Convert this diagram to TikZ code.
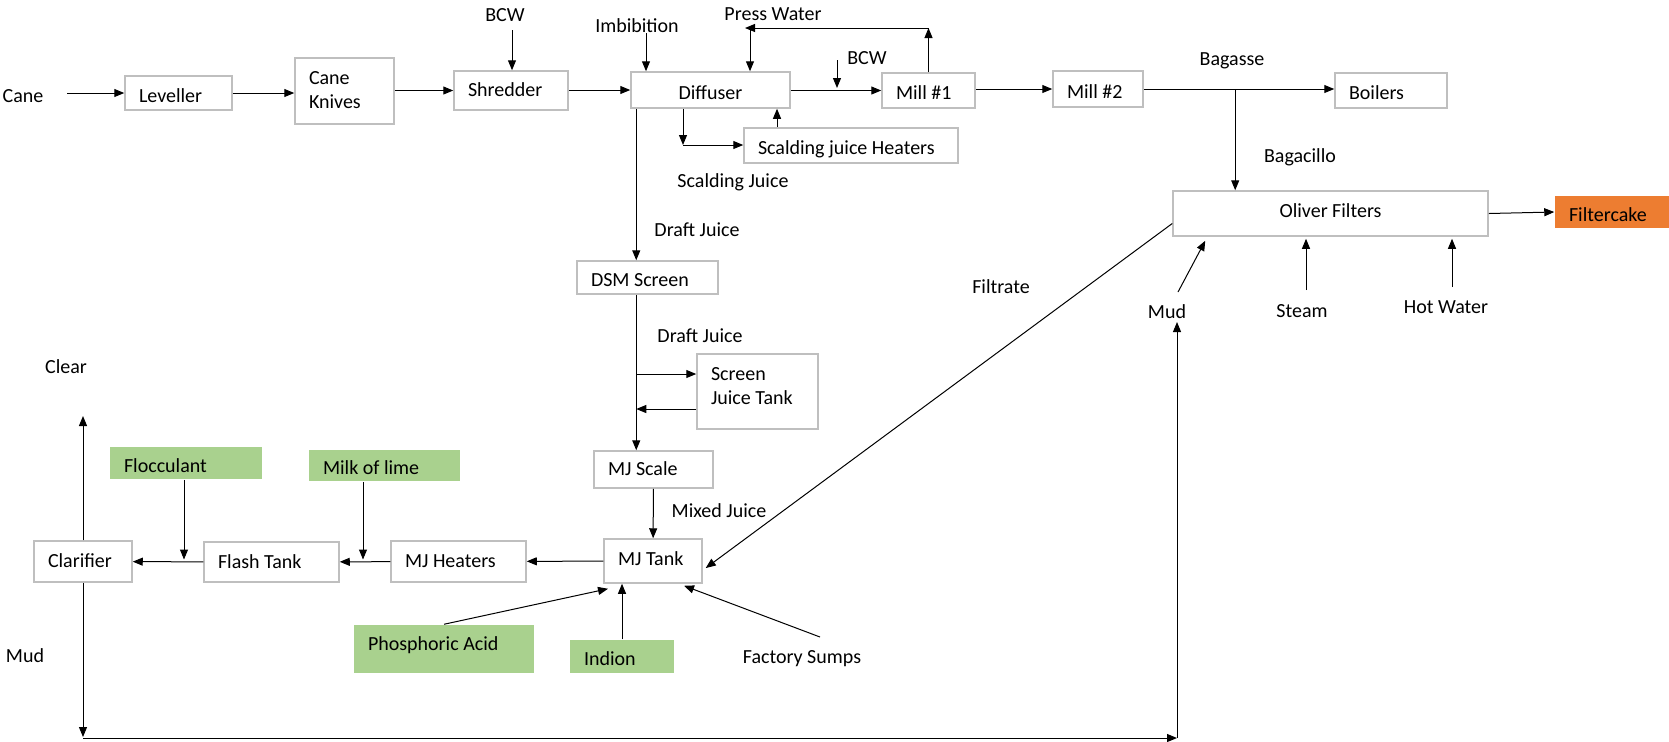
\documentclass[tikz,border=0pt]{standalone}
\usepackage{fontspec}
\setmainfont{Carlito}
\usetikzlibrary{arrows.meta, positioning, calc}
\definecolor{BoxGray}{RGB}{191, 191, 191}
\definecolor{DoseGreen}{RGB}{169, 209, 142}
\definecolor{CakeOrange}{RGB}{237, 125, 49}

\begin{document}
\begin{tikzpicture}[
            x=0.5pt, y=-0.5pt,
            box/.style={rectangle, draw=BoxGray, line width=0.75pt, inner xsep=7pt, inner ysep=0pt,
                        align=left, font=\fontsize{10}{12}\selectfont, text height=9.5pt, text depth=0.5pt,
                        execute at begin node={\spaceskip=0pt\xspaceskip=0pt\relax}},
            midbox/.style={box, align=none},
            dose/.style={box, draw=none, fill=DoseGreen},
            lbl/.style={inner sep=1pt, font=\fontsize{10}{12}\selectfont, text height=6.4pt, text depth=0pt},
            arrow/.style={-{Triangle[length=5pt, width=4pt]}, line width=0.5pt}
        ]
            \fill[white] (0,0) rectangle (1669,741);
            \useasboundingbox (0,0) rectangle (1669,741);

            % Cane line
            \node[box, text width=39.5pt, minimum height=17pt] (leveller) at (178.5,93) {Leveller};
            \node[box, text width=35.5pt, minimum height=33pt, text height=7pt, text depth=14pt] (knives) at (344.5,91) {Cane\\Knives};
            \node[box, text width=43pt, minimum height=19.5pt, text height=8pt, text depth=1.6pt] (shredder) at (511,90.5) {Shredder};
            \node[midbox, minimum width=79.5pt, minimum height=18pt] (diffuser) at (710.5,90) {Diffuser};
            \node[box, text width=93pt, minimum height=17.5pt] (scald) at (851,145.5) {Scalding juice Heaters};
            \node[box, text width=32.5pt, minimum height=17.5pt] (mill1) at (928.5,90.5) {Mill \#1};
            \node[box, text width=31pt, minimum height=18pt] (mill2) at (1098,89) {Mill \#2};
            \node[box, text width=42pt, minimum height=17.5pt] (boilers) at (1391,90.5) {Boilers};
            \node[midbox, minimum width=157.5pt, minimum height=22.5pt, text height=7pt, text depth=2.6pt] (oliver) at (1330.5,213.5) {Oliver Filters};
            \node[box, draw=none, fill=CakeOrange, text width=43pt, minimum height=16pt] (filtercake) at (1612,212) {Filtercake};

            % Juice line
            \node[box, text width=56.5pt, minimum height=16.5pt] (dsm) at (647.5,277.5) {DSM Screen};
            \node[box, text width=46.5pt, minimum height=37.5pt, text height=7pt, text depth=18pt] (sjt) at (757.5,391.5) {Screen\\Juice Tank};
            \node[box, text width=45.5pt, minimum height=18.5pt, text height=8pt, text depth=1.6pt] (mjscale) at (653.5,469.5) {MJ Scale};
            \node[box, text width=35pt, minimum height=22pt, text height=7pt, text depth=2.6pt] (mjtank) at (653,561) {MJ Tank};
            \node[box, text width=53.5pt, minimum height=20.5pt, text height=8pt, text depth=1.6pt] (mjheaters) at (458.5,561.5) {MJ Heaters};
            \node[box, text width=53.5pt, minimum height=20pt, text height=8pt, text depth=1.6pt] (flash) at (271.5,562) {Flash Tank};
            \node[box, text width=35pt, minimum height=20.5pt, text height=8pt, text depth=1.6pt] (clarifier) at (83,561.5) {Clarifier};

            % Dosing
            \node[dose, text width=62pt, minimum height=16pt] (flocculant) at (186,463) {Flocculant};
            \node[dose, text width=61.5pt, minimum height=15.5pt] (milk) at (384.5,465.5) {Milk of lime};
            \node[dose, text width=76pt, minimum height=24pt, text height=7pt, text depth=5.6pt] (phosphoric) at (444,649) {Phosphoric Acid};
            \node[dose, text width=38pt, minimum height=16.5pt] (indion) at (622,656.5) {Indion};

            % Labels
            \node[lbl] (cane) at (23,96) {Cane};
            \node[lbl] (bcwa) at (505,15) {BCW};
            \node[lbl] (imbib) at (637,26) {Imbibition};
            \node[lbl] (presswater) at (773,14) {Press Water};
            \node[lbl] (bcwb) at (867,58) {BCW};
            \node[lbl] (scaldjuice) at (733,181) {Scalding Juice};
            \node[lbl] (bagasse) at (1232,59) {Bagasse};
            \node[lbl] (bagacillo) at (1300,156) {Bagacillo};
            \node[lbl] (drafta) at (697,230) {Draft Juice};
            \node[lbl] (draftb) at (700,336) {Draft Juice};
            \node[lbl] (filtrate) at (1001,287) {Filtrate};
            \node[lbl] (mudr) at (1167,312) {Mud};
            \node[lbl] (steam) at (1302,311) {Steam};
            \node[lbl] (hotwater) at (1446,307) {Hot Water};
            \node[lbl] (mixed) at (719,511) {Mixed Juice};
            \node[lbl] (sumps) at (802,657) {Factory Sumps};
            \node[lbl] (clear) at (66,367) {Clear};
            \node[lbl] (mudl) at (25,656) {Mud};

            % Free ends
            \coordinate (canein) at (67,93);
            \coordinate (bcwain) at (512,30);
            \coordinate (imbin) at (646,33);
            \coordinate (pwleft) at (745,28);
            \coordinate (bcwbin) at (837,60);
            \coordinate (scaldturn) at (683,145);
            \coordinate (dj) at ([xshift=30pt]dsm.south west);
            \coordinate (sjtin) at ([yshift=8.75pt]sjt.west);
            \coordinate (sjtout) at ([yshift=-8.75pt]sjt.west);
            \coordinate (bagsplit) at ($(mill2.east)!0.48!(boilers.west)$);
            \coordinate (mudout) at (1178,292);
            \coordinate (steamout) at (1306,290);
            \coordinate (hwout) at (1452,287);
            \coordinate (clearout) at (83,416);
            \coordinate (mudbl) at (83,737);
            \coordinate (mudbr) at (1177,738);
            \coordinate (mudup) at (1177,322);
            \coordinate (sumpsout) at (820,637);

            % Arrows, cane line
            \draw[arrow] (canein) -- (leveller);
            \draw[arrow] (leveller.east) -- (leveller.east -| knives.west);
            \draw[arrow] (knives.east |- shredder.west) -- (shredder.west);
            \draw[arrow] (bcwain) -- (bcwain |- shredder.north);
            \draw[arrow] (shredder.east |- diffuser.west) -- (diffuser.west);
            \draw[arrow] (imbin) -- (imbin |- diffuser.north);
            \draw[arrow] (diffuser.east |- mill1.west) -- (mill1.west);
            \draw[arrow, shorten >=1pt] (bcwbin) -- (bcwbin |- diffuser.east);
            \draw[arrow] (mill1.east |- mill2.west) -- (mill2.west);
            \draw[arrow] (mill2.east) -- (mill2.east -| boilers.west);

            % Press water
            \draw[arrow] (mill1.north) -- (mill1.north |- pwleft);
            \draw[arrow] (mill1.north |- pwleft) -- (pwleft);
            \draw[arrow] ([xshift=2.5pt]pwleft) -- ([xshift=2.5pt]pwleft |- diffuser.north);

            % Scalding juice loop
            \draw[arrow] (diffuser.south -| scaldturn) -- (scaldturn);
            \draw[arrow] (scaldturn) -- (scaldturn -| scald.west);
            \draw[arrow] ([xshift=-37pt]scald.north) -- ([xshift=-37pt]scald.north |- diffuser.south);

            % Draft juice
            \draw[arrow] ([xshift=3pt]diffuser.south west) -- ([xshift=3pt]diffuser.south west |- dsm.north);
            \draw[arrow] (dj) -- (dj |- mjscale.north);
            \draw[arrow] (dj |- sjtin) -- (sjtin);
            \draw[arrow] (sjtout) -- (dj |- sjtout);
            \draw[arrow] (mjscale) -- (mjtank);

            % Bagasse and filters
            \draw[arrow] (bagsplit) -- (bagsplit |- oliver.north);
            \draw[arrow] (oliver.east) -- (filtercake.west);
            \draw[arrow] (mudout) -- ([xshift=16.5pt, yshift=-2pt]oliver.south west);
            \draw[arrow, shorten >=1pt] (steamout) -- (steamout |- oliver.south);
            \draw[arrow, shorten >=1pt] (hwout) -- (hwout |- oliver.south);
            \draw[arrow] ([yshift=-5pt]oliver.west) -- ([xshift=1.5pt, yshift=-3.5pt]mjtank.east);

            % Clarification
            \draw[arrow] (mjtank) -- (mjheaters);
            \draw[arrow] (mjheaters) -- (flash);
            \draw[arrow] (flash) -- (clarifier);
            \draw[arrow, shorten >=1pt] ([xshift=-10.75pt]milk.south) -- ([xshift=-10.75pt]milk.south |- mjheaters.west);
            \draw[arrow, shorten >=1pt] ([xshift=-1pt]flocculant.south) -- ([xshift=-1pt]flocculant.south |- clarifier.east);
            \draw[arrow] (phosphoric.north) -- ([xshift=-22.5pt, yshift=-2.5pt]mjtank.south);
            \draw[arrow] (indion.north) -- (indion.north |- mjtank.south);
            \draw[arrow] (sumpsout) -- ([xshift=15.5pt, yshift=-1pt]mjtank.south);

            % Clear juice and mud return
            \draw[arrow] (clarifier.north) -- (clearout);
            \draw[arrow] (clarifier.south) -- (mudbl);
            \draw[arrow] (mudbl |- mudbr) -- (mudbr);
            \draw[arrow] (mudbr) -- (mudup);
        \end{tikzpicture}
\end{document}
